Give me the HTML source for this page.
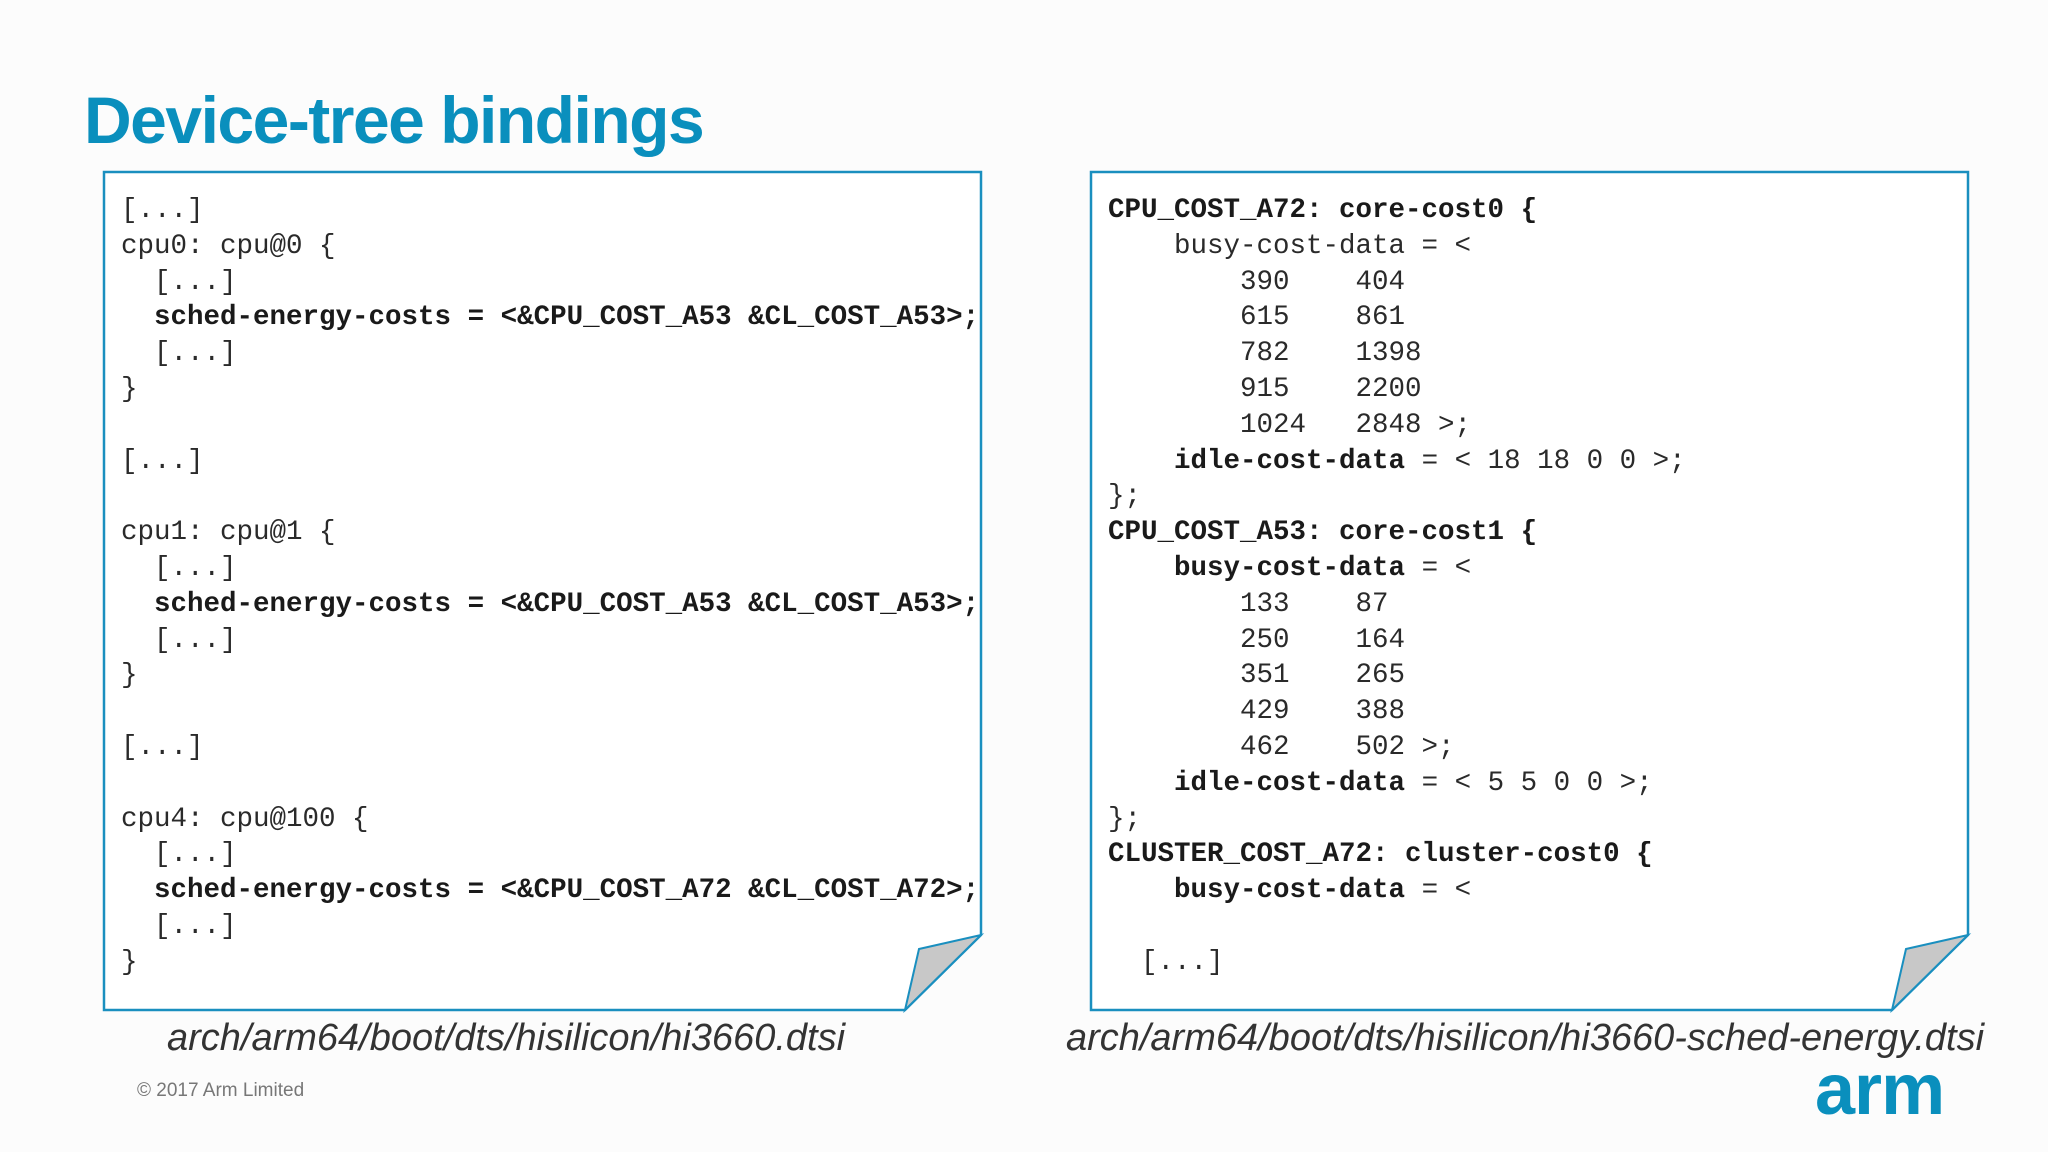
<!DOCTYPE html>
<html><head><meta charset="utf-8"><style>
html,body{margin:0;padding:0;background:#fcfcfc;}
body{width:2048px;height:1152px;position:relative;overflow:hidden;font-family:"Liberation Sans",sans-serif;}
.title{position:absolute;left:84px;top:80px;font-size:66px;font-weight:bold;color:#0a8fbd;letter-spacing:-1.5px;line-height:80px;}
pre{position:absolute;margin:0;font-family:"Liberation Mono",monospace;font-size:27.5px;line-height:35.8px;color:#2a2a2a;}
b{font-weight:bold;color:#1a1a1a;}
.cap{position:absolute;font-style:italic;font-size:38px;color:#333;white-space:nowrap;transform:translateX(-50%);top:1017px;}
.copy{position:absolute;left:137px;top:1080px;font-size:19px;color:#777;}
.arm{position:absolute;left:1815px;top:1050px;font-size:72px;font-weight:bold;color:#0a8fbd;letter-spacing:-1px;line-height:80px;}
svg{position:absolute;left:0;top:0;}
</style></head><body>
<svg width="2048" height="1152">
<polygon points="104,172 981,172 981,935 905,1010 104,1010" fill="#fff" stroke="#1a8fbf" stroke-width="2.5"/>
<polygon points="905,1010 919,949 981,935" fill="#c8c8c8" stroke="#1a8fbf" stroke-width="2"/>
<polygon points="1091,172 1968,172 1968,935 1892,1010 1091,1010" fill="#fff" stroke="#1a8fbf" stroke-width="2.5"/>
<polygon points="1892,1010 1906,949 1968,935" fill="#c8c8c8" stroke="#1a8fbf" stroke-width="2"/>
</svg>
<div class="title">Device-tree bindings</div>
<pre style="left:121px;top:193px;">[...]
cpu0: cpu@0 {
  [...]
  <b>sched-energy-costs = &lt;&amp;CPU_COST_A53 &amp;CL_COST_A53&gt;;</b>
  [...]
}

[...]

cpu1: cpu@1 {
  [...]
  <b>sched-energy-costs = &lt;&amp;CPU_COST_A53 &amp;CL_COST_A53&gt;;</b>
  [...]
}

[...]

cpu4: cpu@100 {
  [...]
  <b>sched-energy-costs = &lt;&amp;CPU_COST_A72 &amp;CL_COST_A72&gt;;</b>
  [...]
}</pre>
<pre style="left:1108px;top:193px;"><b>CPU_COST_A72: core-cost0 {</b>
    busy-cost-data = &lt;
        390    404
        615    861
        782    1398
        915    2200
        1024   2848 &gt;;
    <b>idle-cost-data</b> = &lt; 18 18 0 0 &gt;;
};
<b>CPU_COST_A53: core-cost1 {</b>
    <b>busy-cost-data</b> = &lt;
        133    87
        250    164
        351    265
        429    388
        462    502 &gt;;
    <b>idle-cost-data</b> = &lt; 5 5 0 0 &gt;;
};
<b>CLUSTER_COST_A72: cluster-cost0 {</b>
    <b>busy-cost-data</b> = &lt;

  [...]</pre>
<div class="cap" style="left:506px;">arch/arm64/boot/dts/hisilicon/hi3660.dtsi</div>
<div class="cap" style="left:1525px;">arch/arm64/boot/dts/hisilicon/hi3660-sched-energy.dtsi</div>
<div class="copy">© 2017 Arm Limited</div>
<div class="arm">arm</div>
</body></html>
